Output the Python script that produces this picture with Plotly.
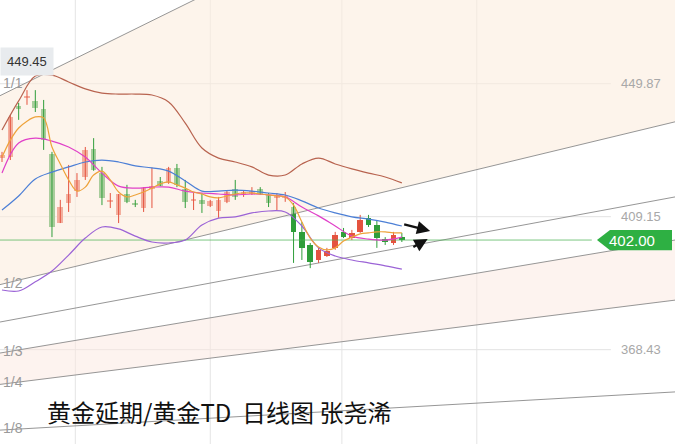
import plotly.graph_objects as go

# ---------------- data ----------------
bar_index = list(range(49))
opens = [427.1, 427.4, 443.0, 445.5, 444.6, 442.1, 428.4, 407.2, 413.3, 417.0, 421.3, 429.9, 422.5, 413.7,
         409.7, 416.1, 413.3, 411.8, 417.9, 420.1, 419.5, 424.1, 417.6, 414.0, 414.3, 412.4, 410.9, 413.7,
         417.6, 416.1, 416.4, 417.6, 415.8, 414.9, 414.9, 412.1, 404.5, 400.5, 395.9, 397.1, 399.6, 404.5,
         402.6, 404.5, 408.8, 406.6, 402.3, 401.1, 402.9]
highs = [429.0, 440.3, 444.0, 447.9, 447.9, 444.9, 429.0, 414.3, 425.0, 422.5, 430.5, 433.2, 424.4, 416.4,
         416.1, 418.9, 414.3, 418.2, 424.1, 421.3, 424.4, 425.3, 420.4, 416.4, 416.4, 414.3, 415.2, 417.3,
         420.4, 417.3, 418.2, 418.2, 416.4, 416.4, 416.7, 413.3, 407.5, 401.1, 399.6, 399.6, 404.5, 405.7,
         405.1, 409.7, 409.7, 408.1, 402.9, 404.5, 404.2]
lows = [425.9, 426.5, 438.8, 443.4, 441.2, 429.6, 402.9, 407.2, 410.6, 415.2, 420.4, 423.2, 412.7, 411.8,
        407.2, 413.3, 412.1, 410.6, 411.8, 418.5, 419.2, 418.2, 411.8, 411.2, 410.3, 412.1, 408.8, 413.3,
        414.3, 415.2, 415.8, 415.8, 412.1, 411.2, 413.7, 395.0, 395.9, 393.4, 395.0, 396.8, 399.0, 402.6,
        402.0, 404.2, 406.0, 399.6, 400.5, 400.5, 401.4]
closes = [428.0, 439.7, 442.4, 446.1, 442.4, 432.6, 406.0, 412.1, 416.1, 420.4, 429.6, 423.5, 414.9, 414.1,
          416.1, 413.7, 412.8, 417.9, 418.5, 418.6, 424.1, 418.9, 413.7, 414.6, 413.0, 414.0, 414.3, 416.7,
          415.2, 416.7, 417.0, 416.1, 413.3, 415.5, 415.5, 404.5, 399.6, 395.3, 399.0, 398.6, 403.5, 402.9,
          404.2, 408.1, 406.6, 402.6, 401.7, 403.5, 402.0]

ma5 = [427.4, 432.6, 436.3, 438.4, 439.7, 439.4, 430.5, 425.3, 420.4, 417.0, 418.2, 421.9, 423.1, 420.4,
       416.7, 415.2, 415.8, 416.7, 417.9, 419.2, 419.8, 418.9, 417.9, 416.7, 416.1, 415.2, 414.9, 415.5,
       416.1, 416.4, 416.4, 416.1, 415.8, 415.5, 415.2, 412.7, 407.5, 402.6, 399.9, 399.0, 399.6, 401.7,
       402.9, 403.9, 404.2, 404.5, 404.5, 404.2, 404.2]

band_index = [0, 2, 4, 6, 8, 10, 12, 14, 16, 18, 20, 22, 24, 26, 28, 30, 32, 34, 36, 38, 40, 42, 44, 46, 48]
ma10 = [422.5, 431.7, 433.2, 432.3, 430.5, 427.4, 422.5, 418.5, 417.9, 418.2, 418.2, 417.0, 416.4, 416.1,
        415.8, 416.1, 415.8, 415.2, 412.1, 409.4, 406.3, 403.2, 402.3, 402.0, 402.9]
ma20 = [411.2, 415.5, 420.7, 422.8, 424.4, 425.9, 426.5, 425.9, 424.7, 424.1, 423.1, 420.1, 417.0, 417.0,
        417.3, 417.0, 416.4, 415.8, 414.0, 411.8, 410.3, 409.1, 408.4, 407.5, 406.3]
boll_upper = [435.7, 444.6, 452.2, 452.5, 450.4, 448.3, 447.0, 446.7, 446.7, 446.4, 444.3, 437.8, 430.2, 427.1,
              425.9, 424.4, 421.9, 421.9, 425.3, 427.1, 425.3, 423.8, 422.5, 421.3, 419.5]
boll_lower = [386.7, 386.4, 389.2, 392.5, 397.4, 402.6, 406.0, 405.4, 403.2, 401.4, 401.1, 402.0, 406.6, 408.7,
              409.1, 410.3, 410.9, 410.6, 406.3, 399.6, 397.1, 395.9, 395.0, 394.1, 393.1]

# Gann fan: price at the left edge and at the right edge of the view
fan_names = ["1/1", "1/2", "", "1/3", "1/4", "1/8"]
fan_start = [446.2, 388.35, 376.9, 367.4, 357.8, 343.8]
fan_end = [548.1, 438.2, 415.2, 402.0, 383.6, 355.5]

grid_prices = [449.87, 409.15, 368.43]
grid_bars = [8.8, 25.0, 40.8, 57.0]
last_price = 402.00
high_label = "449.45"
arrow_tails = [(48.1, 406.9), (49.2, 399.6)]
arrow_heads = [(51.4, 404.8), (51.1, 402.3)]
title_text = "黄金延期/黄金TD  日线图 张尧浠"

X_RANGE = [-0.24, 80.79]
Y_RANGE = [339.55, 475.5]

UP = "#e5533f"
DOWN = "#2f9e3a"

fig = go.Figure()

# background zones of the fan
fig.add_trace(go.Scatter(x=X_RANGE, y=[fan_start[1], fan_end[1]], mode="lines",
                         line=dict(width=0), hoverinfo="skip", showlegend=False))
fig.add_trace(go.Scatter(x=X_RANGE, y=[fan_start[0], fan_end[0]], mode="lines", fill="tonexty",
                         fillcolor="rgba(252,236,222,0.6)", line=dict(width=0), hoverinfo="skip",
                         showlegend=False))
fig.add_trace(go.Scatter(x=X_RANGE, y=[fan_start[4], fan_end[4]], mode="lines",
                         line=dict(width=0), hoverinfo="skip", showlegend=False))
fig.add_trace(go.Scatter(x=X_RANGE, y=[fan_start[3], fan_end[3]], mode="lines", fill="tonexty",
                         fillcolor="rgba(252,232,224,0.5)", line=dict(width=0), hoverinfo="skip",
                         showlegend=False))

# fan lines
for s, e in zip(fan_start, fan_end):
    fig.add_trace(go.Scatter(x=X_RANGE, y=[s, e], mode="lines",
                             line=dict(color="#8a8a8a", width=0.9), hoverinfo="skip", showlegend=False))

# current price line
fig.add_trace(go.Scatter(x=[X_RANGE[0], 70.8], y=[last_price, last_price], mode="lines",
                         line=dict(color="rgba(80,180,90,0.75)", width=1), hoverinfo="skip",
                         showlegend=False))

# candles
for color, cond in ((UP, lambda o, c: c >= o), (DOWN, lambda o, c: c < o)):
    wx, wy = [], []
    bx, bbase, bh = [], [], []
    for i, o, h, l, c in zip(bar_index, opens, highs, lows, closes):
        if not cond(o, c):
            continue
        wx += [i, i, None]
        wy += [l, h, None]
        lo, hi = min(o, c), max(o, c)
        bx.append(i)
        bbase.append(lo)
        bh.append(max(hi - lo, 0.35))
    fig.add_trace(go.Scatter(x=wx, y=wy, mode="lines", line=dict(color=color, width=1),
                             hoverinfo="skip", showlegend=False))
    fig.add_trace(go.Bar(x=bx, y=bh, base=bbase, width=0.68, marker=dict(color=color, line=dict(width=0)),
                         hoverinfo="skip", showlegend=False))

# indicator lines
fig.add_trace(go.Scatter(x=band_index, y=boll_upper, mode="lines",
                         line=dict(color="#b8634f", width=1.2, shape="spline"), showlegend=False))
fig.add_trace(go.Scatter(x=band_index, y=boll_lower, mode="lines",
                         line=dict(color="#9b63d6", width=1.2, shape="spline"), showlegend=False))
fig.add_trace(go.Scatter(x=band_index, y=ma20, mode="lines",
                         line=dict(color="#4c7fd6", width=1.2, shape="spline"), showlegend=False))
fig.add_trace(go.Scatter(x=band_index, y=ma10, mode="lines",
                         line=dict(color="#e040c8", width=1.2, shape="spline"), showlegend=False))
fig.add_trace(go.Scatter(x=bar_index, y=ma5, mode="lines",
                         line=dict(color="#eea23a", width=1.2, shape="spline"), showlegend=False))

shapes = []
for gb in grid_bars:
    shapes.append(dict(type="line", xref="x", yref="paper", x0=gb, x1=gb, y0=0, y1=1,
                       line=dict(color="#e4e4e4", width=1), layer="below"))
for gp in grid_prices:
    shapes.append(dict(type="line", xref="paper", yref="y", x0=0, x1=0.905, y0=gp, y1=gp,
                       line=dict(color="#e2e2e2", width=1), layer="below"))
h = 3.1
shapes.append(dict(type="path", xref="paper", yref="y",
                   path=f"M 0.8844,{last_price} L 0.9037,{last_price + h} L 0.9956,{last_price + h} "
                        f"L 0.9956,{last_price - h} L 0.9037,{last_price - h} Z",
                   fillcolor="#2eb043", line=dict(width=0), layer="above"))

annotations = []
for gp in grid_prices:
    annotations.append(dict(xref="paper", yref="y", x=0.982, y=gp, xanchor="right", yanchor="middle",
                            text=f"{gp:.2f}", showarrow=False,
                            font=dict(family="Arial", size=13, color="#a8a8a8")))
annotations.append(dict(xref="paper", yref="y", x=0.937, y=last_price, xanchor="center", yanchor="middle",
                        text=f"{last_price:.2f}", showarrow=False,
                        font=dict(family="Arial", size=15, color="white")))
for name, s in zip(fan_names, fan_start):
    if name:
        annotations.append(dict(xref="paper", yref="y", x=0.002, y=s, xanchor="left", yanchor="middle",
                                text=name, showarrow=False, yshift=2 if name != "1/1" else 13,
                                font=dict(family="Arial", size=14, color="#9a9a9a")))
annotations.append(dict(xref="paper", yref="paper", x=0, y=0.862, xanchor="left", yanchor="middle",
                        text=high_label, showarrow=False, bgcolor="#e8ebee", borderpad=6,
                        font=dict(family="Arial", size=13, color="#333333")))
for (tx, ty), (hx, hy) in zip(arrow_tails, arrow_heads):
    annotations.append(dict(xref="x", yref="y", axref="x", ayref="y", x=hx, y=hy, ax=tx, ay=ty,
                            text="", showarrow=True, arrowhead=2, arrowsize=1.1, arrowwidth=2.4,
                            arrowcolor="#111111"))
annotations.append(dict(xref="paper", yref="paper", x=0.066, y=0.073, xanchor="left", yanchor="middle",
                        text=title_text, showarrow=False,
                        font=dict(family="Noto Sans CJK SC", size=24, color="#111111")))

fig.update_layout(
    width=675, height=444, margin=dict(l=0, r=0, t=0, b=0),
    paper_bgcolor="white", plot_bgcolor="white",
    xaxis=dict(range=X_RANGE, visible=False, fixedrange=True),
    yaxis=dict(range=Y_RANGE, visible=False, fixedrange=True),
    bargap=0, barmode="overlay",
    shapes=shapes, annotations=annotations, showlegend=False,
)
fig.write_html("out.html", config={"displayModeBar": False},
               post_script="document.body.style.margin='0';document.body.style.overflow='hidden';")
